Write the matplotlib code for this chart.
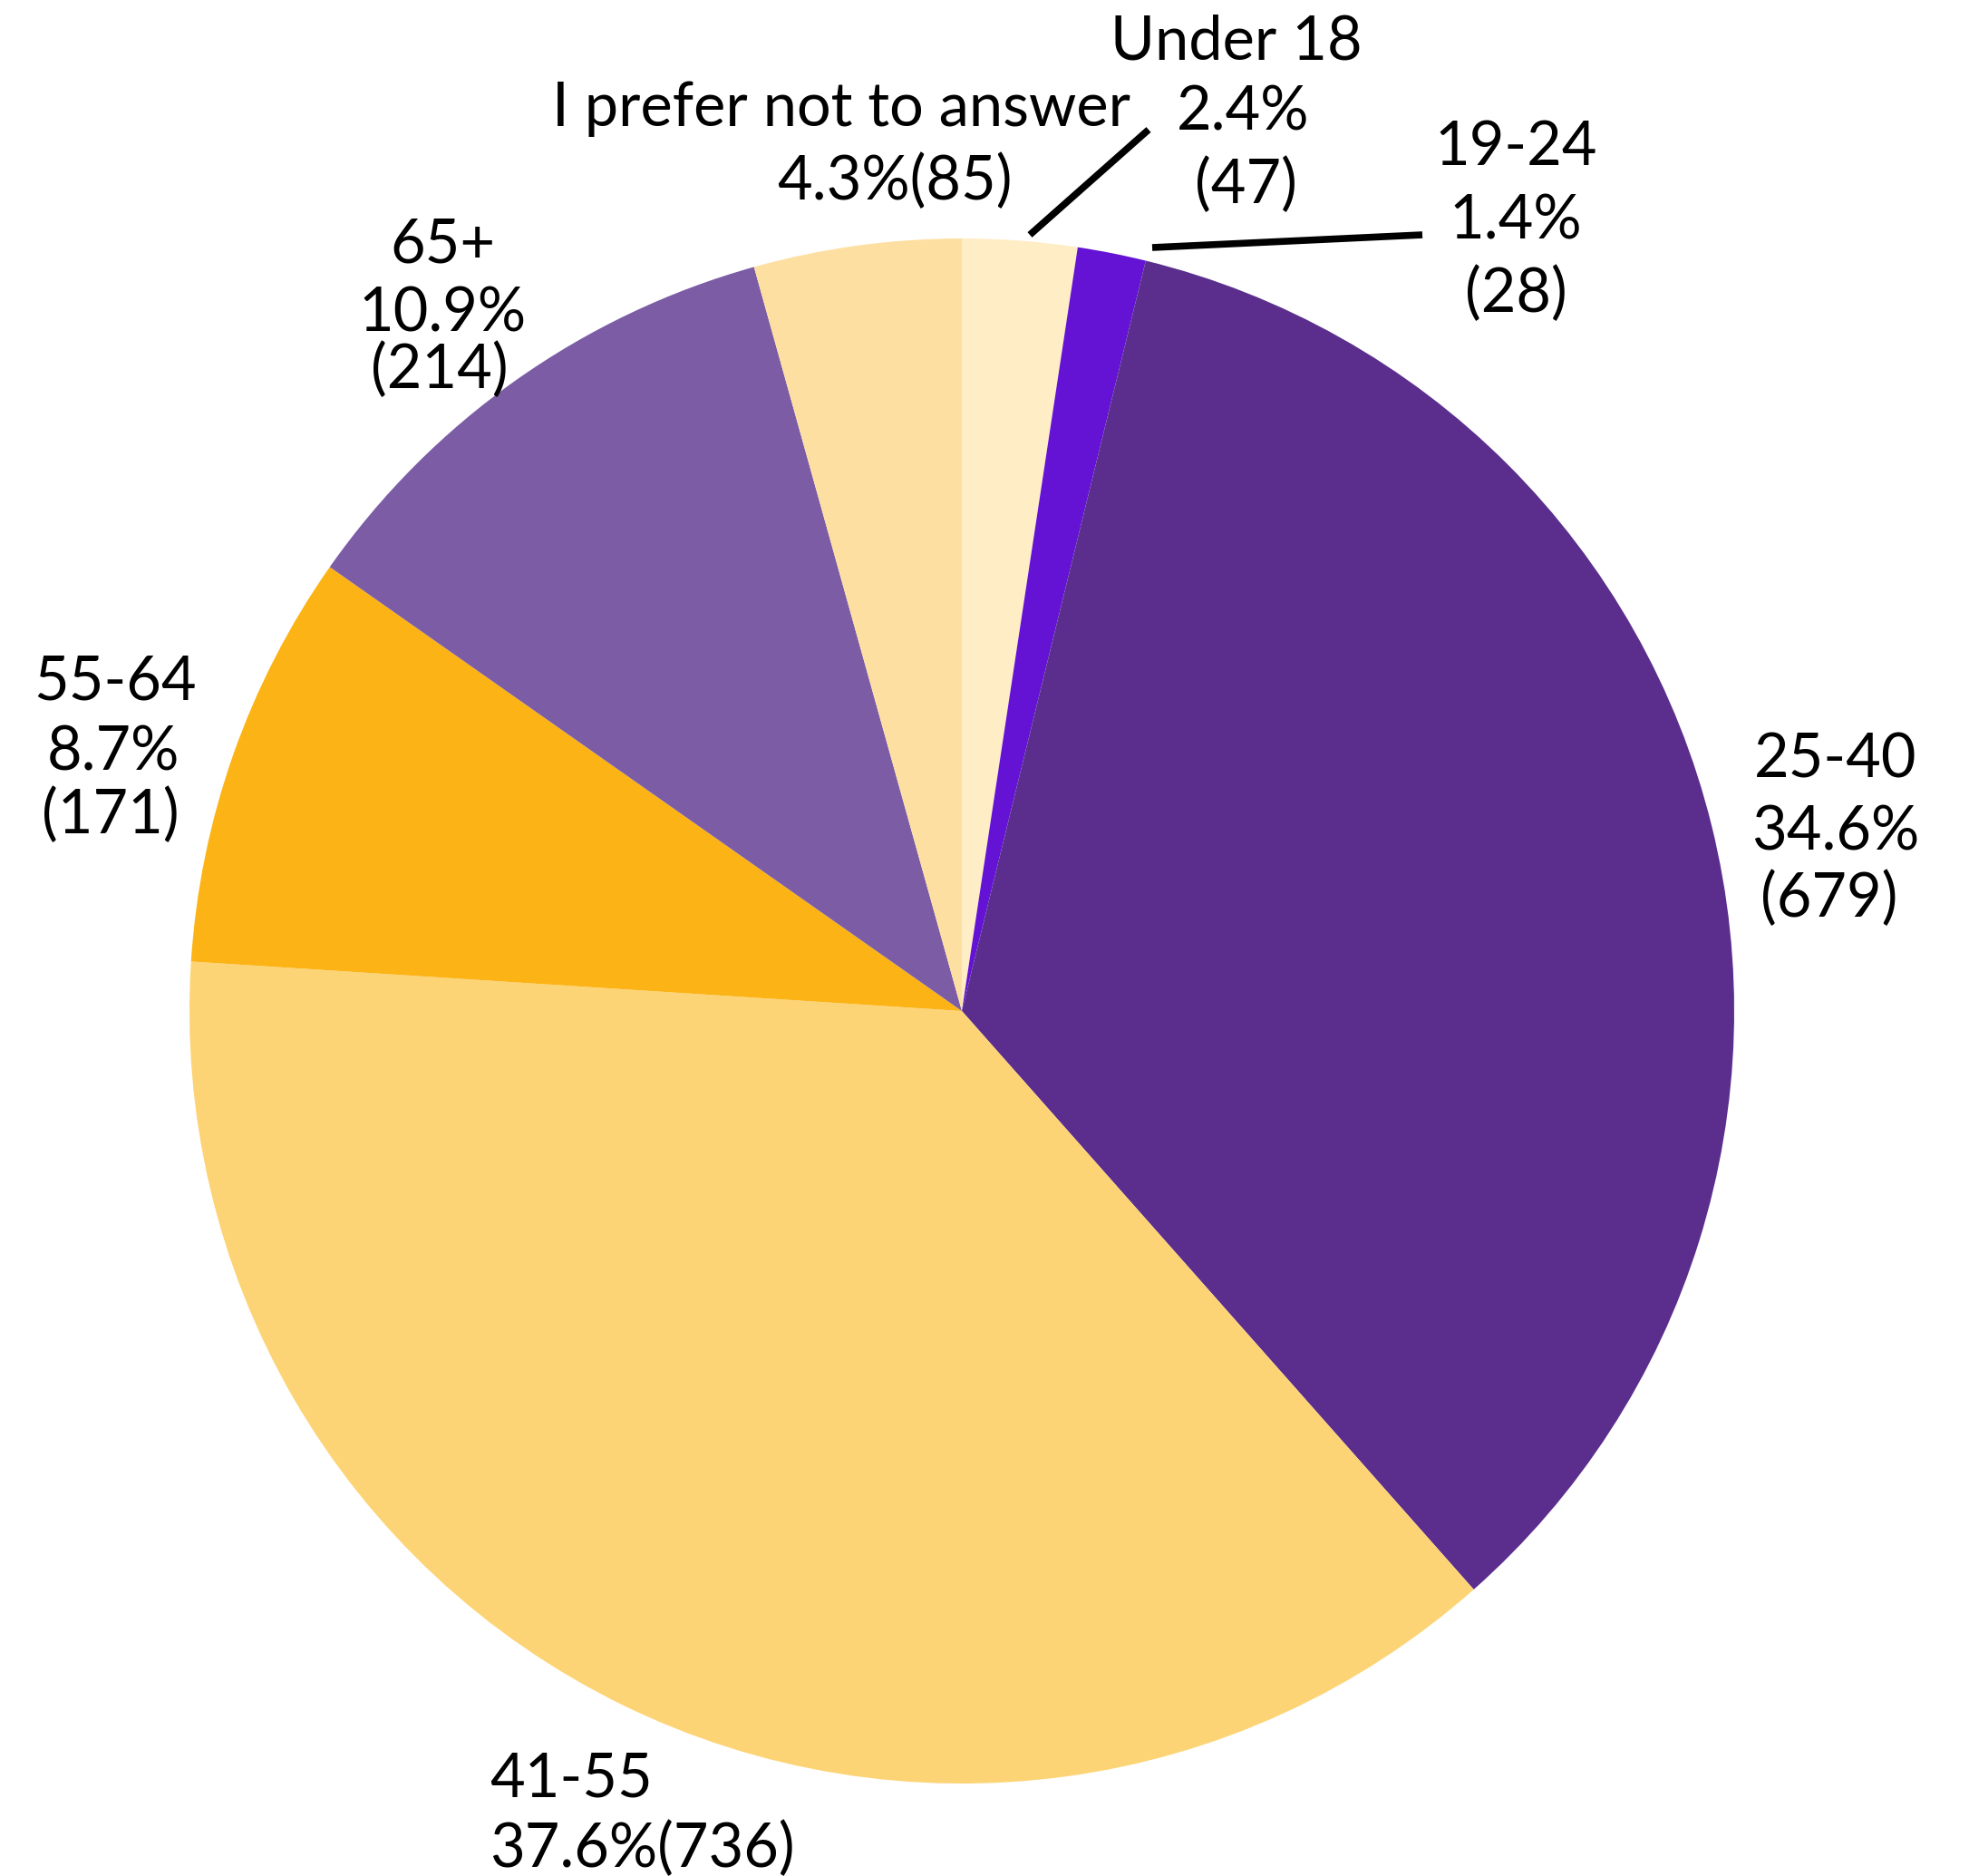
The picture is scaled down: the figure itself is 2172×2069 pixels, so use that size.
import matplotlib.pyplot as plt

# data
categories = ['Under 18', '19-24', '25-40', '41-55', '55-64', '65+', 'I prefer not to answer']
counts = [47, 28, 679, 736, 171, 214, 85]
pct_labels = ['2.4%', '1.4%', '34.6%', '37.6%', '8.7%', '10.9%', '4.3%']
colors = ['#FFEDC5', '#6412D4', '#5B2E8E', '#FDD475', '#FBB316', '#7B5CA5', '#FDE0A1']

W, H = 2172, 2069
plt.rcParams['font.family'] = ['Lato', 'DejaVu Sans']

fig = plt.figure(figsize=(W / 100, H / 100), dpi=100)
ax = fig.add_axes([0, 0, 1, 1])

ax.pie(counts, colors=colors, startangle=90, counterclock=False,
       center=(1061, H - 1115), radius=852, frame=True,
       wedgeprops=dict(linewidth=0))
ax.set_xlim(0, W)
ax.set_ylim(0, H)
ax.set_aspect('equal')
ax.axis('off')

# label layout (pixel positions of each text line, top-down)
fs = 48
def put(x, y, s):
    ax.text(x, H - y, s, ha='center', va='center', fontsize=fs, color='black')

# Under 18
put(1364, 46, categories[0])
put(1371, 125, pct_labels[0])
put(1374, 205, f'({counts[0]})')
# 19-24
put(1672, 163, categories[1])
put(1672, 245, pct_labels[1])
put(1672, 325, f'({counts[1]})')
# 25-40
put(2025, 838, categories[2])
put(2025, 918, pct_labels[2])
put(2018, 992, f'({counts[2]})')
# 41-55
put(630, 1963, categories[3])
put(708, 2040, f'{pct_labels[3]}({counts[3]})')
# 55-64
put(127, 752, categories[4])
put(125, 831, pct_labels[4])
put(122, 900, f'({counts[4]})')
# 65+
put(488, 270, categories[5])
put(488, 346, pct_labels[5])
put(485, 409, f'({counts[5]})')
# prefer not to answer
put(928, 120, categories[6])
put(987, 201, f'{pct_labels[6]}({counts[6]})')

# leader lines
ax.plot([1136, 1267], [H - 259, H - 143], color='black', linewidth=5.5, solid_capstyle='butt')
ax.plot([1271, 1569], [H - 273, H - 259], color='black', linewidth=5.5, solid_capstyle='butt')

fig.savefig('out.png', dpi=100, facecolor='white')
